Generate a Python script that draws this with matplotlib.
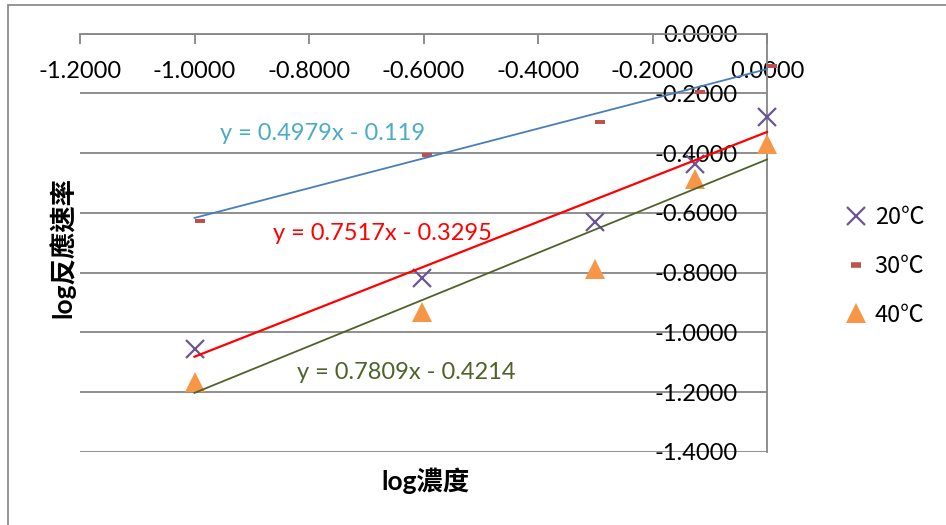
import matplotlib
matplotlib.use("Agg")
import matplotlib.pyplot as plt
from matplotlib.lines import Line2D
from matplotlib.path import Path
from matplotlib.patches import Rectangle
from matplotlib.font_manager import FontProperties
import numpy as np

plt.rcParams['font.family'] = ['Lato', 'Noto Sans CJK TC', 'DejaVu Sans']

# log of concentration
log_conc = [-1.0, -0.602, -0.301, -0.125, 0.0]
# log of reaction rate at each temperature
rate_20 = [-1.057, -0.819, -0.630, -0.438, -0.281]
rate_30 = [-0.628, -0.406, -0.295, -0.197, -0.109]
rate_40 = [-1.167, -0.932, -0.788, -0.486, -0.370]

series_labels = ['20℃', '30℃', '40℃']
# linear trendlines (slope, intercept) for 30, 20, 40 ℃
fit_30 = (0.4979, -0.119)
fit_20 = (0.7517, -0.3295)
fit_40 = (0.7809, -0.4214)

x_ticks = [-1.2, -1.0, -0.8, -0.6, -0.4, -0.2, 0.0]
y_ticks = [0.0, -0.2, -0.4, -0.6, -0.8, -1.0, -1.2, -1.4]

FS = 17
GRAY = '#868686'

fig = plt.figure(figsize=(9.46, 5.25), dpi=100)
ax = fig.add_axes([80 / 946, 1 - 452 / 525, (767 - 80) / 946, (452 - 33.5) / 525])
ax.set_xlim(-1.2, 0)
ax.set_ylim(-1.4, 0)

# dash marker that starts at the point and extends to the right
dash = Path([(0, -0.22), (1, -0.22), (1, 0.22), (0, 0.22), (0, -0.22)],
            [Path.MOVETO, Path.LINETO, Path.LINETO, Path.LINETO, Path.CLOSEPOLY])

c20, c30, c40 = '#6B5593', '#C0504D', '#F79646'
ax.plot(log_conc, rate_20, ls='none', marker='x', ms=13, mew=1.6, color=c20,
        zorder=3, clip_on=False)
ax.plot(log_conc, rate_30, ls='none', marker=dash, ms=15, mew=0, color=c30,
        zorder=3, clip_on=False)
ax.plot(log_conc, rate_40, ls='none', marker='^', ms=14.5, mew=0, color=c40,
        zorder=3, clip_on=False)

xs = np.array([log_conc[0], log_conc[-1]])
ax.plot(xs, fit_30[0] * xs + fit_30[1], color='#4A7EBB', lw=1.3, zorder=4, clip_on=False)
ax.plot(xs, fit_20[0] * xs + fit_20[1], color='#FF0000', lw=1.6, zorder=4, clip_on=False)
ax.plot(xs, fit_40[0] * xs + fit_40[1], color='#4F6228', lw=1.3, zorder=4, clip_on=False)


def eq_text(fit):
    return f"y = {fit[0]}x - {abs(fit[1])}"


ax.text(-0.776, -0.333, eq_text(fit_30), color='#4BACC6', fontsize=FS,
        ha='center', va='center', zorder=5)
ax.text(-0.671, -0.668, eq_text(fit_20), color='#FF0000', fontsize=FS,
        ha='center', va='center', zorder=5)
ax.text(-0.630, -1.134, eq_text(fit_40), color='#4F6228', fontsize=FS,
        ha='center', va='center', zorder=5)

# axes cross at the origin: x axis along the top, y axis along the right
for side in ('top', 'right'):
    ax.spines[side].set_visible(False)
ax.spines['bottom'].set_position(('data', 0))
ax.spines['left'].set_position(('data', 0))
for side in ('bottom', 'left'):
    ax.spines[side].set_color(GRAY)
    ax.spines[side].set_linewidth(1.3)
    ax.spines[side].set_zorder(2)

ax.set_xticks(x_ticks)
ax.set_xticklabels([f"{v:.4f}" for v in x_ticks])
ax.set_yticks(y_ticks)
ax.set_yticklabels([f"{v:.4f}" for v in y_ticks])
ax.tick_params(axis='x', direction='out', length=7.5, width=1.3, color=GRAY,
               pad=12, labelsize=FS)
ax.tick_params(axis='y', length=0, pad=21, labelsize=FS)
ax.yaxis.grid(True, color=GRAY, lw=1.3, zorder=1)
ax.set_axisbelow(True)

fig.text(62 / 946, 1 - 248 / 525, 'log反應速率', rotation=90, fontsize=19,
         fontweight='bold', ha='center', va='center')
fig.text(425 / 946, 1 - 481 / 525, 'log濃度', fontsize=19, fontweight='bold',
         ha='center', va='center')

handles = [
    Line2D([], [], ls='none', marker='x', ms=13, mew=1.6, color=c20),
    Line2D([], [], ls='none', marker='_', ms=7, mew=4, color=c30),
    Line2D([], [], ls='none', marker='^', ms=14.5, mew=0, color=c40),
]
fig.legend(handles, series_labels, loc='center left',
           bbox_to_anchor=(844 / 946, 1 - 266.5 / 525), frameon=False,
           prop=FontProperties(family=['Noto Sans CJK TC', 'DejaVu Sans'], size=FS),
           handlelength=1.0, handletextpad=0.3, labelspacing=1.08,
           borderpad=0, borderaxespad=0)

# chart area border
fig.patches.append(Rectangle((8 / 946, -1), 2, 2 - 5 / 525, transform=fig.transFigure,
                             fill=False, ec='#8c8c8c', lw=1.3))

fig.savefig('out.png', dpi=100)
